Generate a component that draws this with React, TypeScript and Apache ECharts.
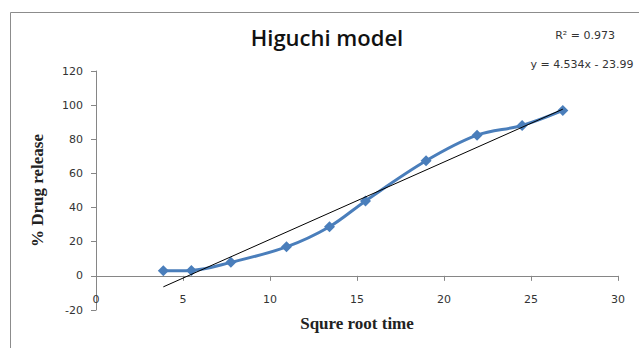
import React, { useEffect, useRef } from "react";
import * as echarts from "echarts";

const xValues = [3.87, 5.48, 7.75, 10.95, 13.42, 15.49, 18.97, 21.9, 24.49, 26.83];
const releaseValues = [3.0, 3.2, 7.9, 17.0, 28.8, 43.9, 67.4, 82.4, 88.1, 96.9];
const slope = 4.534;
const intercept = -23.99;
const titleText = "Higuchi model";
const r2Text = "R² = 0.973";
const eqText = "y = 4.534x - 23.99";

export default function App() {
  const ref = useRef<HTMLDivElement>(null);
  useEffect(() => {
    const chart = echarts.init(ref.current!, null, { renderer: "svg" });
    const xMin = xValues[0];
    const xMax = xValues[xValues.length - 1];
    const trend = [
      [xMin, slope * xMin + intercept],
      [xMax, slope * xMax + intercept],
    ];
    chart.setOption({
      animation: false,
      backgroundColor: "#ffffff",
      title: {
        text: titleText,
        left: 322,
        top: 21,
        textAlign: "center",
        textStyle: { fontFamily: "Open Sans", fontSize: 22, fontWeight: 600, color: "#111" },
      },
      graphic: [
        { type: "rect", left: 8, top: 10, shape: { width: 800, height: 500 }, style: { fill: "none", stroke: "#8c8c8c", lineWidth: 1 } },
        { type: "text", x: 585, y: 35, style: { text: r2Text, align: "center", verticalAlign: "middle", font: "11px 'DejaVu Sans'", fill: "#333" } },
        { type: "text", x: 582, y: 64, style: { text: eqText, align: "center", verticalAlign: "middle", font: "11px 'DejaVu Sans'", fill: "#333" } },
      ],
      grid: { left: 96, right: 21, top: 71, bottom: 38, outerBoundsMode: "none", containLabel: false },
      xAxis: {
        type: "value",
        min: 0,
        max: 30,
        interval: 5,
        name: "Squre root time",
        nameLocation: "middle",
        nameGap: 5,
        nameMoveOverlap: false,
        nameTextStyle: { fontFamily: "Liberation Serif", fontSize: 17, fontWeight: "bold", color: "#222" },
        axisLine: { onZero: true, lineStyle: { color: "#868686" } },
        axisTick: { show: true, length: 5, lineStyle: { color: "#868686" } },
        axisLabel: { margin: -16, fontFamily: "DejaVu Sans", fontSize: 11, color: "#333" },
        splitLine: { show: false },
      },
      yAxis: {
        type: "value",
        min: -20,
        max: 120,
        interval: 20,
        name: "% Drug release",
        nameLocation: "middle",
        nameGap: 50,
        nameMoveOverlap: false,
        nameRotate: 90,
        nameTextStyle: { fontFamily: "Liberation Serif", fontSize: 17, fontWeight: "bold", color: "#222" },
        axisLine: { show: true, onZero: false, lineStyle: { color: "#868686" } },
        axisTick: { show: true, length: 5, lineStyle: { color: "#868686" } },
        axisLabel: { margin: 13, fontFamily: "DejaVu Sans", fontSize: 11, color: "#333" },
        splitLine: { show: false },
      },
      series: [
        {
          type: "line",
          data: xValues.map((x, i) => [x, releaseValues[i]]),
          smooth: 0.35,
          symbol: "diamond",
          symbolSize: 11,
          lineStyle: { color: "#4A7EBB", width: 3 },
          itemStyle: { color: "#4A7EBB" },
          z: 2,
        },
        {
          type: "line",
          data: trend,
          symbol: "none",
          lineStyle: { color: "#000", width: 1 },
          z: 3,
        },
      ],
    });
    return () => chart.dispose();
  }, []);
  return <div ref={ref} style={{ position: "fixed", left: 0, top: 0, width: 639, height: 348 }} />;
}
